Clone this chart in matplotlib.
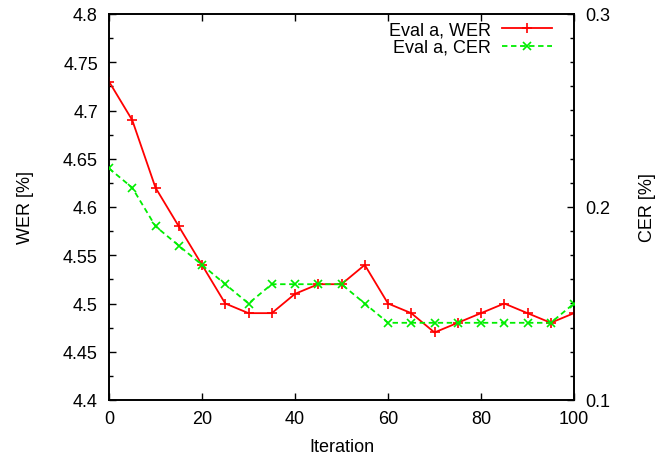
import matplotlib
matplotlib.use("Agg")
import matplotlib.pyplot as plt
from matplotlib.ticker import MultipleLocator

plt.rcParams['font.family'] = ['Liberation Sans', 'DejaVu Sans']

iterations = [0, 5, 10, 15, 20, 25, 30, 35, 40, 45, 50, 55, 60, 65, 70, 75, 80, 85, 90, 95, 100]
wer = [4.73, 4.69, 4.62, 4.58, 4.54, 4.50, 4.49, 4.49, 4.51, 4.52, 4.52, 4.54, 4.50, 4.49, 4.47, 4.48, 4.49, 4.50, 4.49, 4.48, 4.49]
cer = [0.22, 0.21, 0.19, 0.18, 0.17, 0.16, 0.15, 0.16, 0.16, 0.16, 0.16, 0.15, 0.14, 0.14, 0.14, 0.14, 0.14, 0.14, 0.14, 0.14, 0.15]

fig = plt.figure(figsize=(6.57, 4.60), dpi=100)
ax = fig.add_axes([109/657, 59/460, 465/657, 386/460])
ax2 = ax.twinx()

fs = 13
l1, = ax.plot(iterations, wer, color='#ff0000', lw=1.3, marker='+', ms=7, mew=1.2,
              label='Eval a, WER', zorder=3)
l2, = ax2.plot(iterations, cer, color='#00ee00', lw=1.3, ls=(0, (3, 2)), marker='x', ms=6, mew=1.2,
               label='Eval a, CER', zorder=3)

ax.set_xlim(0, 100)
ax.set_ylim(4.4, 4.8)
ax2.set_ylim(0.1, 0.3)

ax.xaxis.set_major_locator(MultipleLocator(20))
ax.yaxis.set_minor_locator(MultipleLocator(0.025))
ax2.yaxis.set_minor_locator(MultipleLocator(0.0125))

ax.set_yticks([4.4, 4.45, 4.5, 4.55, 4.6, 4.65, 4.7, 4.75, 4.8])
ax.set_yticklabels(['4.4', '4.45', '4.5', '4.55', '4.6', '4.65', '4.7', '4.75', '4.8'])
ax2.set_yticks([0.1, 0.2, 0.3])
ax2.set_yticklabels(['0.1', '0.2', '0.3'])

ax.tick_params(axis='x', direction='in', top=True, length=5, width=1, labelsize=fs, pad=7, colors='black')
ax.tick_params(axis='y', which='major', direction='in', right=False, length=5, width=1, labelsize=fs, pad=8)
ax.tick_params(axis='y', which='minor', direction='in', right=False, length=3, width=1)
ax2.tick_params(axis='y', which='major', direction='in', length=5, width=1, labelsize=fs, pad=8)
ax2.tick_params(axis='y', which='minor', direction='in', length=3, width=1)

for a in (ax, ax2):
    for s in a.spines.values():
        s.set_linewidth(1.2)
        s.set_color('black')

ax.set_xlabel('Iteration', fontsize=fs)
ax.xaxis.set_label_coords((342 - 109) / 465, -(448 - 401) / 386)
ax.xaxis.label.set_va('center')
ax.set_ylabel('WER [%]', fontsize=fs)
ax.yaxis.set_label_coords(-(109 - 25) / 465, 0.5)
ax.yaxis.label.set_va('center')
ax2.set_ylabel('CER [%]', fontsize=fs)
ax2.yaxis.set_label_coords((648 - 109) / 465, 0.5)
ax2.yaxis.label.set_va('center')

leg = ax.legend([l1, l2], ['Eval a, WER', 'Eval a, CER'], loc='upper right',
                bbox_to_anchor=(1 - 13 / 465, 1.0 + 2 / 386), frameon=False, fontsize=fs,
                markerfirst=False, handlelength=2.75, handletextpad=0.65,
                labelspacing=0.05, borderaxespad=0.2, borderpad=0.3)

fig.savefig('out.png', dpi=100)
